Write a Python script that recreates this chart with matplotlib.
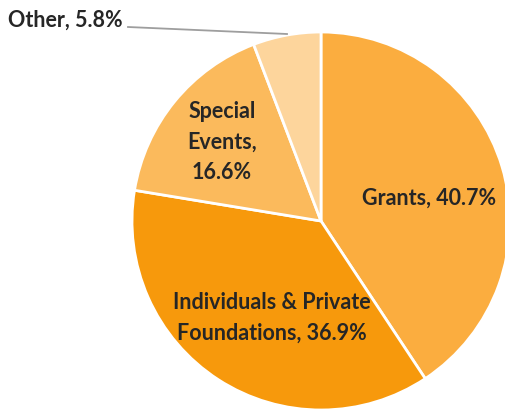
import matplotlib
matplotlib.use("Agg")
import matplotlib.pyplot as plt

# Revenue share by source
labels = ["Grants", "Individuals & Private\nFoundations", "Special\nEvents", "Other"]
shares = [40.7, 36.9, 16.6, 5.8]
colors = ["#FBAD3F", "#F7990C", "#FBBA5C", "#FDD59C"]

W, H, DPI = 506, 412, 100
cx, cy, r = 321, 221, 189  # pie centre / radius in pixels


def px(x, y):
    # pixel position -> data coords (unit radius)
    return (x - cx) / r, (cy - y) / r


fig = plt.figure(figsize=(W / DPI, H / DPI), dpi=DPI)
ax = fig.add_axes([0, 0, 1, 1])
ax.pie(shares, colors=colors, startangle=90, counterclock=False,
       wedgeprops=dict(edgecolor="white", linewidth=2.0))
ax.set_xlim(-cx / r, (W - cx) / r)
ax.set_ylim(-(H - cy) / r, cy / r)
ax.set_aspect("equal")
ax.axis("off")

font = dict(family=["Lato", "DejaVu Sans"], fontweight="bold", fontsize=15.5, color="#262626")

# labels inside slices
ax.text(*px(429, 198), f"{labels[0]}, {shares[0]}%", ha="center", va="center", **font)
ax.text(*px(272, 318), f"{labels[1]}, {shares[1]}%", ha="center", va="center",
        linespacing=1.55, **font)
ax.text(*px(222, 142), f"{labels[2]},\n{shares[2]}%", ha="center", va="center",
        linespacing=1.55, **font)

# outside label with leader line
ax.text(*px(8, 20), f"{labels[3]}, {shares[3]}%", ha="left", va="center", **font)
x0, y0 = px(128, 27)
x1, y1 = px(287, 34)
ax.plot([x0, x1], [y0, y1], color="#9E9E9E", linewidth=1.3)

fig.savefig("out.png", dpi=DPI)
